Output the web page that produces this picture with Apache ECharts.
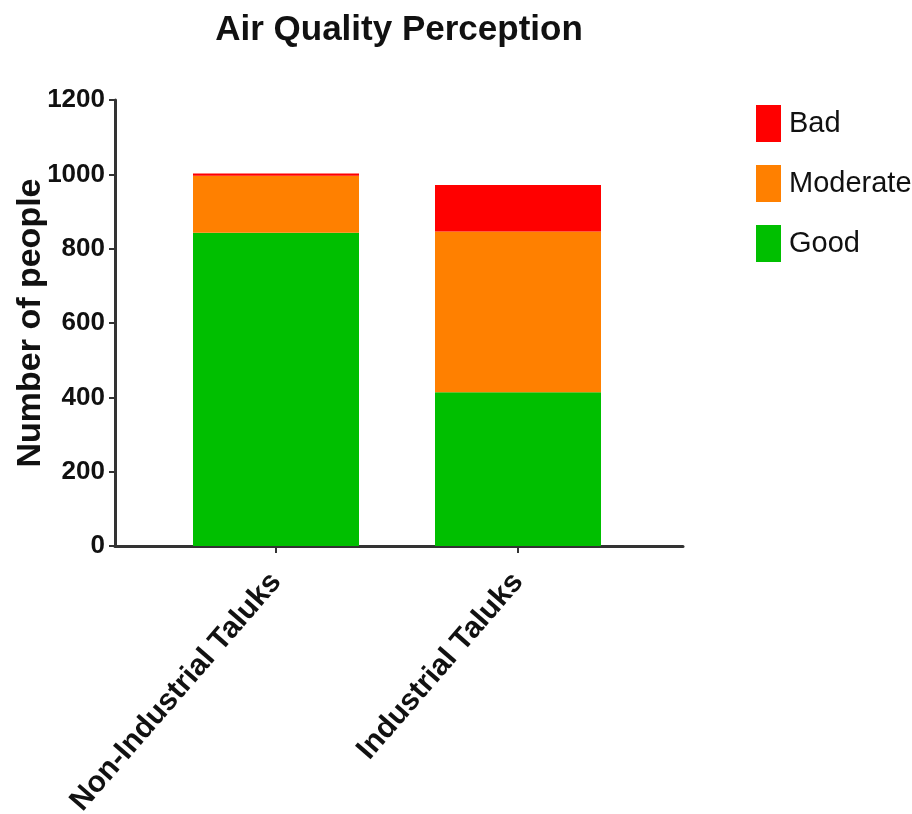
<!DOCTYPE html>
<html>
<head>
<meta charset="utf-8">
<script src="https://cdn.jsdelivr.net/npm/echarts@6/dist/echarts.min.js"></script>
<style>html,body{margin:0;padding:0;background:#fff}#c{width:912px;height:814px}</style>
</head>
<body>
<div id="c"></div>
<script>
const categories = ['Non-Industrial Taluks', 'Industrial Taluks'];
const good = [843, 414];
const moderate = [153, 432];
const bad = [6, 125];
const yTicks = [0, 200, 400, 600, 800, 1000, 1200];

const chart = echarts.init(document.getElementById('c'));
const font = 'Liberation Sans, Arial, sans-serif';
chart.setOption({
  animation: false,
  backgroundColor: '#fff',
  title: {
    text: 'Air Quality Perception',
    left: 394, top: 8, textAlign: 'center',
    textStyle: {fontFamily: font, fontSize: 35, fontWeight: 'bold', color: '#111'}
  },
  legend: {
    orient: 'vertical', left: 751, top: 100,
    itemWidth: 25, itemHeight: 37, itemGap: 23,
    data: ['Bad', 'Moderate', 'Good'],
    textStyle: {fontFamily: font, fontSize: 29, color: '#111', padding: [0, 0, 0, 3]},
    icon: 'rect'
  },
  grid: [
    {left: 155, right: 273, top: 100, bottom: 268, containLabel: false, outerBoundsMode: 'none'},
    {left: 115, right: 229, top: 100, bottom: 268, containLabel: false, outerBoundsMode: 'none'}
  ],
  xAxis: [
    {
      type: 'category', gridIndex: 0, data: categories,
      axisLine: {show: false},
      axisTick: {show: true, alignWithLabel: true, length: 7, lineStyle: {color: '#333', width: 2}},
      axisLabel: {rotate: 49, fontFamily: font, fontSize: 30, fontWeight: 'bold', color: '#111', margin: 31, interval: 0}
    },
    {
      type: 'value', gridIndex: 1, min: 0, max: 1,
      axisLine: {show: true, lineStyle: {color: '#333', width: 3}},
      axisTick: {show: false}, axisLabel: {show: false}, splitLine: {show: false}
    }
  ],
  yAxis: [
    {
      type: 'value', gridIndex: 0, min: yTicks[0], max: yTicks[yTicks.length - 1], interval: 200,
      offset: 40,
      name: 'Number of people', nameLocation: 'middle', nameGap: 67, nameMoveOverlap: false,
      nameTextStyle: {fontFamily: font, fontSize: 34, fontWeight: 'bold', color: '#111'},
      axisLine: {show: true, lineStyle: {color: '#333', width: 3}},
      axisTick: {show: true, length: 6, lineStyle: {color: '#333', width: 2}},
      axisLabel: {fontFamily: font, fontSize: 26, fontWeight: 'bold', color: '#111', margin: 10,
        formatter: v => String(v)},
      splitLine: {show: false}
    },
    {type: 'value', gridIndex: 1, show: false, min: 0, max: 1}
  ],
  series: [
    {name: 'Good', type: 'bar', stack: 's', data: good, barWidth: 166, itemStyle: {color: '#00BF00'}},
    {name: 'Moderate', type: 'bar', stack: 's', data: moderate, barWidth: 166, itemStyle: {color: '#FF8000'}},
    {name: 'Bad', type: 'bar', stack: 's', data: bad, barWidth: 166, itemStyle: {color: '#FF0000'}}
  ]
});
</script>
</body>
</html>
